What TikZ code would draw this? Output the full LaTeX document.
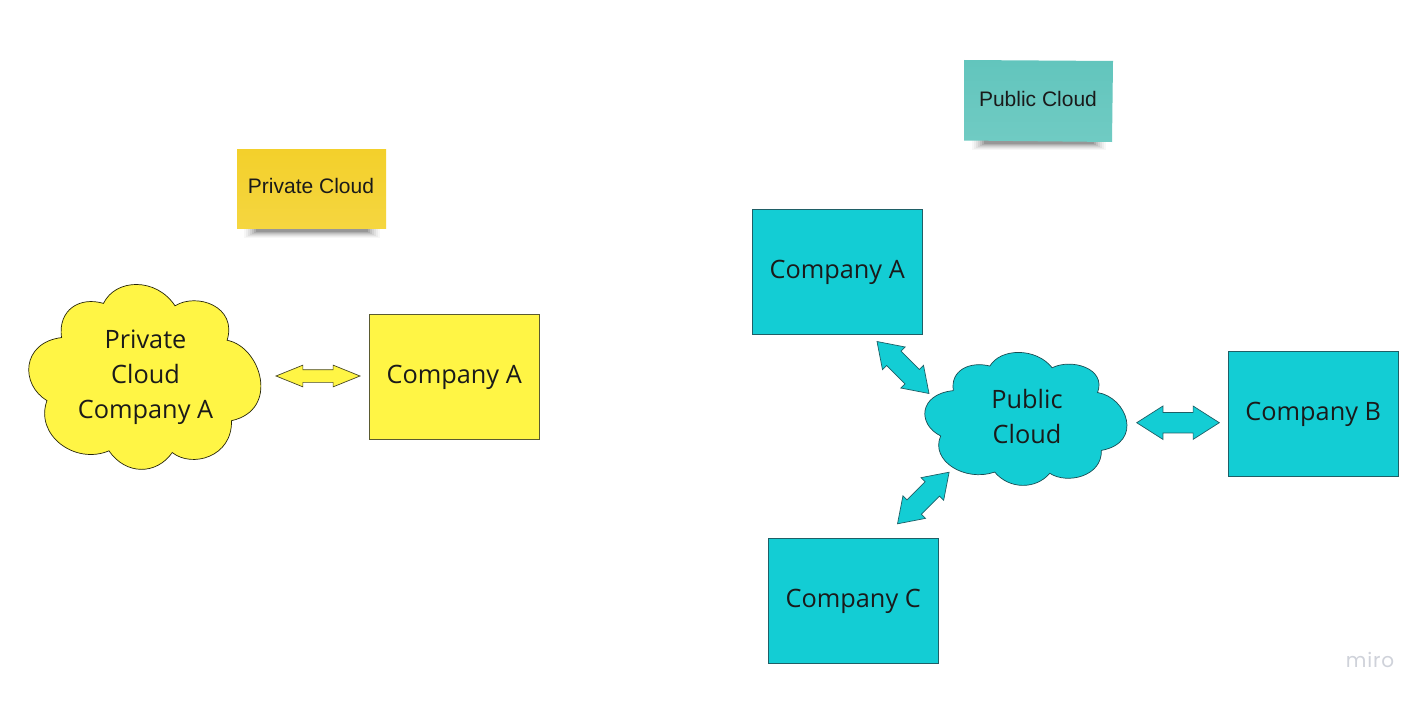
\documentclass[tikz,border=0pt]{standalone}
\usepackage{fontspec}
\setmainfont{Open Sans}
\newfontfamily\stickyfont{Liberation Sans}
\newfontfamily\logofont[LetterSpace=4]{Poppins}
\usetikzlibrary{shapes.arrows}
\definecolor{sunfill}{HTML}{FFF545}
\definecolor{sunline}{HTML}{5A5A30}
\definecolor{seafill}{HTML}{13CDD4}
\definecolor{sealine}{HTML}{1F5F66}
\definecolor{inktext}{HTML}{1A1A1A}
\definecolor{goldtop}{HTML}{F3D02B}
\definecolor{goldbot}{HTML}{F5D640}
\definecolor{tealtop}{HTML}{62C5BD}
\definecolor{tealbot}{HTML}{70CBC3}
\definecolor{logogrey}{HTML}{CFD2DA}
\newcommand{\cloudoutline}{(31.7,53)
 .. controls (28,25) and (50,12) .. (73,19)
 .. controls (85,-6) and (125,-7) .. (143.4,21.4)
 .. controls (165,8) and (205,22) .. (194.7,55.7)
 .. controls (228,62) and (247,125) .. (199,135.7)
 .. controls (200,172) and (160,183) .. (140.7,167.4)
 .. controls (125,190) and (95,190) .. (78.4,165.7)
 .. controls (45,180) and (5,150) .. (17.4,115.7)
 .. controls (-9,100) and (-8,58) .. cycle}
\tikzset{
  x=1pt,y=-1pt,
  label text/.style={font=\fontsize{25.3}{35}\selectfont,text=inktext,align=center,inner sep=0pt},
  companybox/.style={rectangle,draw,line width=.8pt,minimum width=170.5pt,minimum height=125pt,inner sep=0pt,label text},
  sunbox/.style={companybox,fill=sunfill,draw=sunline},
  seabox/.style={companybox,fill=seafill,draw=sealine},
  cloudshape/.style={line width=.7pt},
  blockarrow/.style={shape=double arrow,line width=.7pt,inner sep=0pt,outer sep=0pt,double arrow head indent=0pt},
  sunarrow/.style={blockarrow,fill=sunfill,draw=sunline!80!black},
  seaarrow/.style={blockarrow,fill=seafill,draw=sealine},
  stickytext/.style={font=\stickyfont\fontsize{21}{25}\selectfont,text=inktext,inner sep=0pt},
}
\begin{document}
\begin{tikzpicture}
\useasboundingbox (0,0) rectangle (1426,701);
\fill[white] (0,0) rectangle (1426,701);

% sticky notes shadows
\foreach \d/\o in {0/.03,1/.04,2/.05,3/.06,4/.08,5/.10,6/.12}{
  \fill[black,opacity=\o] (244+\d*2,228) rectangle (380-\d*2,238-\d);
  \fill[black,opacity=\o] (972+\d*2,140) rectangle (1106-\d*2,150-\d);
}
% private sticky
\node[rectangle,minimum width=149pt,minimum height=79.5pt,inner sep=0pt,top color=goldtop,bottom color=goldbot,stickytext] (privnote) at (311.5,188.8) {};
\node[stickytext] (privlabel) at (311,186) {Private Cloud};
% public sticky
\shade[top color=tealtop,bottom color=tealbot] (964,60) -- (1113,61) -- (1112,142) -- (964,140.5) -- cycle;
\node[stickytext] (publabel) at (1038,99) {Public Cloud};

% private side
\draw[cloudshape,fill=sunfill,draw=black!85!sunfill,shift={(29.3,284.3)},xscale=1.016,yscale=1.005] \cloudoutline;
\node[label text] (privcloud) at (145.5,377) {Private\\Cloud\\Company A};
\node[sunbox] (compA) at (454.2,377) {Company A};
\node[sunarrow,minimum height=84pt,minimum width=21pt,text height=12pt,double arrow head extend=4.5pt,double arrow tip angle=44] (privarrow) at (318,376) {};

% public side
\draw[cloudshape,fill=seafill,draw=sealine!80!black,shift={(925.3,352.3)},xscale=.8847,yscale=.7228] \cloudoutline;
\node[label text] (pubcloud) at (1027,416.5) {Public\\Cloud};
\node[seabox] (pubA) at (837.2,272) {Company A};
\node[seabox] (pubB) at (1313.2,414) {Company B};
\node[seabox] (pubC) at (853.2,601) {Company C};
\node[seaarrow,minimum height=73.5pt,minimum width=31.5pt,text height=19.7pt,double arrow head extend=5.8pt,double arrow tip angle=68,rotate=-45] (arrowA) at (903,367.5) {};
\node[seaarrow,minimum height=82.6pt,minimum width=32.7pt,text height=19.7pt,double arrow head extend=6.5pt,double arrow tip angle=65] (arrowB) at (1178,422.7) {};
\node[seaarrow,minimum height=73pt,minimum width=31.5pt,text height=19.7pt,double arrow head extend=5.8pt,double arrow tip angle=68,rotate=45] (arrowC) at (923.3,498) {};

\node[font=\logofont\fontsize{20}{25}\selectfont,text=logogrey,inner sep=0pt] (logo) at (1370,660) {miro};
\end{tikzpicture}
\end{document}
